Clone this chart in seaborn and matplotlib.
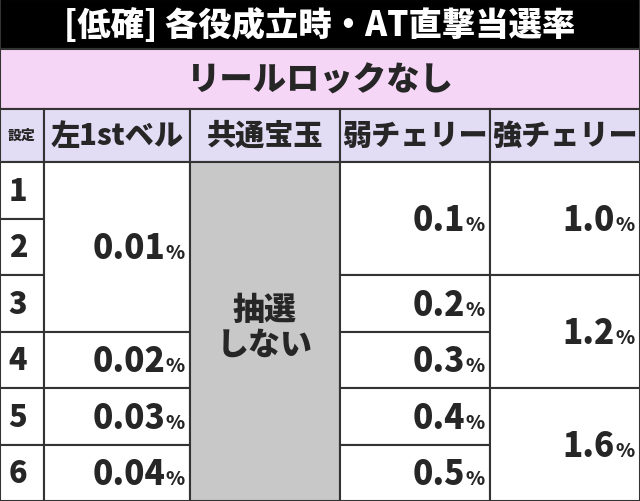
import matplotlib
matplotlib.use("Agg")
import matplotlib.pyplot as plt
import seaborn as sns
from matplotlib.patches import Rectangle

sns.set_theme(style="white")
plt.rcParams['font.family'] = ['Noto Sans CJK JP', 'DejaVu Sans']

title = "[低確] 各役成立時・AT直撃当選率"
subtitle = "リールロックなし"
headers = ["設定", "左1stベル", "共通宝玉", "弱チェリー", "強チェリー"]
settings = ["1", "2", "3", "4", "5", "6"]
# (start_row, end_row, value)
bell = [(0, 2, "0.01"), (3, 3, "0.02"), (4, 4, "0.03"), (5, 5, "0.04")]
weak = [(0, 1, "0.1"), (2, 2, "0.2"), (3, 3, "0.3"), (4, 4, "0.4"), (5, 5, "0.5")]
strong = [(0, 1, "1.0"), (2, 3, "1.2"), (4, 5, "1.6")]
common_text = "抽選\nしない"

W = "black"
fig = plt.figure(figsize=(6.4, 5.02), dpi=100)
ax = fig.add_axes([0, 0, 1, 1])
ax.set_xlim(0, 640); ax.set_ylim(502, 0); ax.axis("off")

cols = [0, 44, 190, 340, 490, 640]
row_top = 163
rh = (502 - row_top) / 6
lc = "#333333"

def rect(x0, y0, x1, y1, fc):
    ax.add_patch(Rectangle((x0, y0), x1 - x0, y1 - y0, facecolor=fc, edgecolor=lc, lw=1.5))

rect(0, 0, 640, 50, "black")
ax.text(320, 25, title, color="white", fontsize=24, fontweight=W, ha="center", va="center")
rect(0, 50, 640, 110, "#f6d6f6")
ax.text(320, 80, subtitle, fontsize=24, fontweight=W, ha="center", va="center")
for i, h in enumerate(headers):
    rect(cols[i], 110, cols[i + 1], row_top, "#e3dcf5")
    ax.text((cols[i] + cols[i + 1]) / 2, 136, h, fontsize=10 if i == 0 else 21,
            fontweight=W, ha="center", va="center")
for r, s in enumerate(settings):
    y0 = row_top + r * rh
    rect(0, y0, 44, y0 + rh, "white")
    ax.text(18, y0 + rh / 2, s, fontsize=22, fontweight=W, ha="center", va="center")

def val_col(ci, spans):
    x0, x1 = cols[ci], cols[ci + 1]
    for a, b, v in spans:
        y0 = row_top + a * rh; y1 = row_top + (b + 1) * rh
        rect(x0, y0, x1, y1, "white")
        yc = (y0 + y1) / 2
        ax.text(x1 - 25, yc + 1, v, fontsize=24, fontweight=W, ha="right", va="center")
        ax.text(x1 - 5, yc + 6, "%", fontsize=14, fontweight=W, ha="right", va="center")

val_col(1, bell)
rect(cols[2], row_top, cols[3], 502, "#c8c8c8")
ax.text((cols[2] + cols[3]) / 2, 328, common_text, fontsize=23, fontweight=W,
        ha="center", va="center", linespacing=1.05)
val_col(3, weak)
val_col(4, strong)

fig.savefig("out.png", dpi=100)
